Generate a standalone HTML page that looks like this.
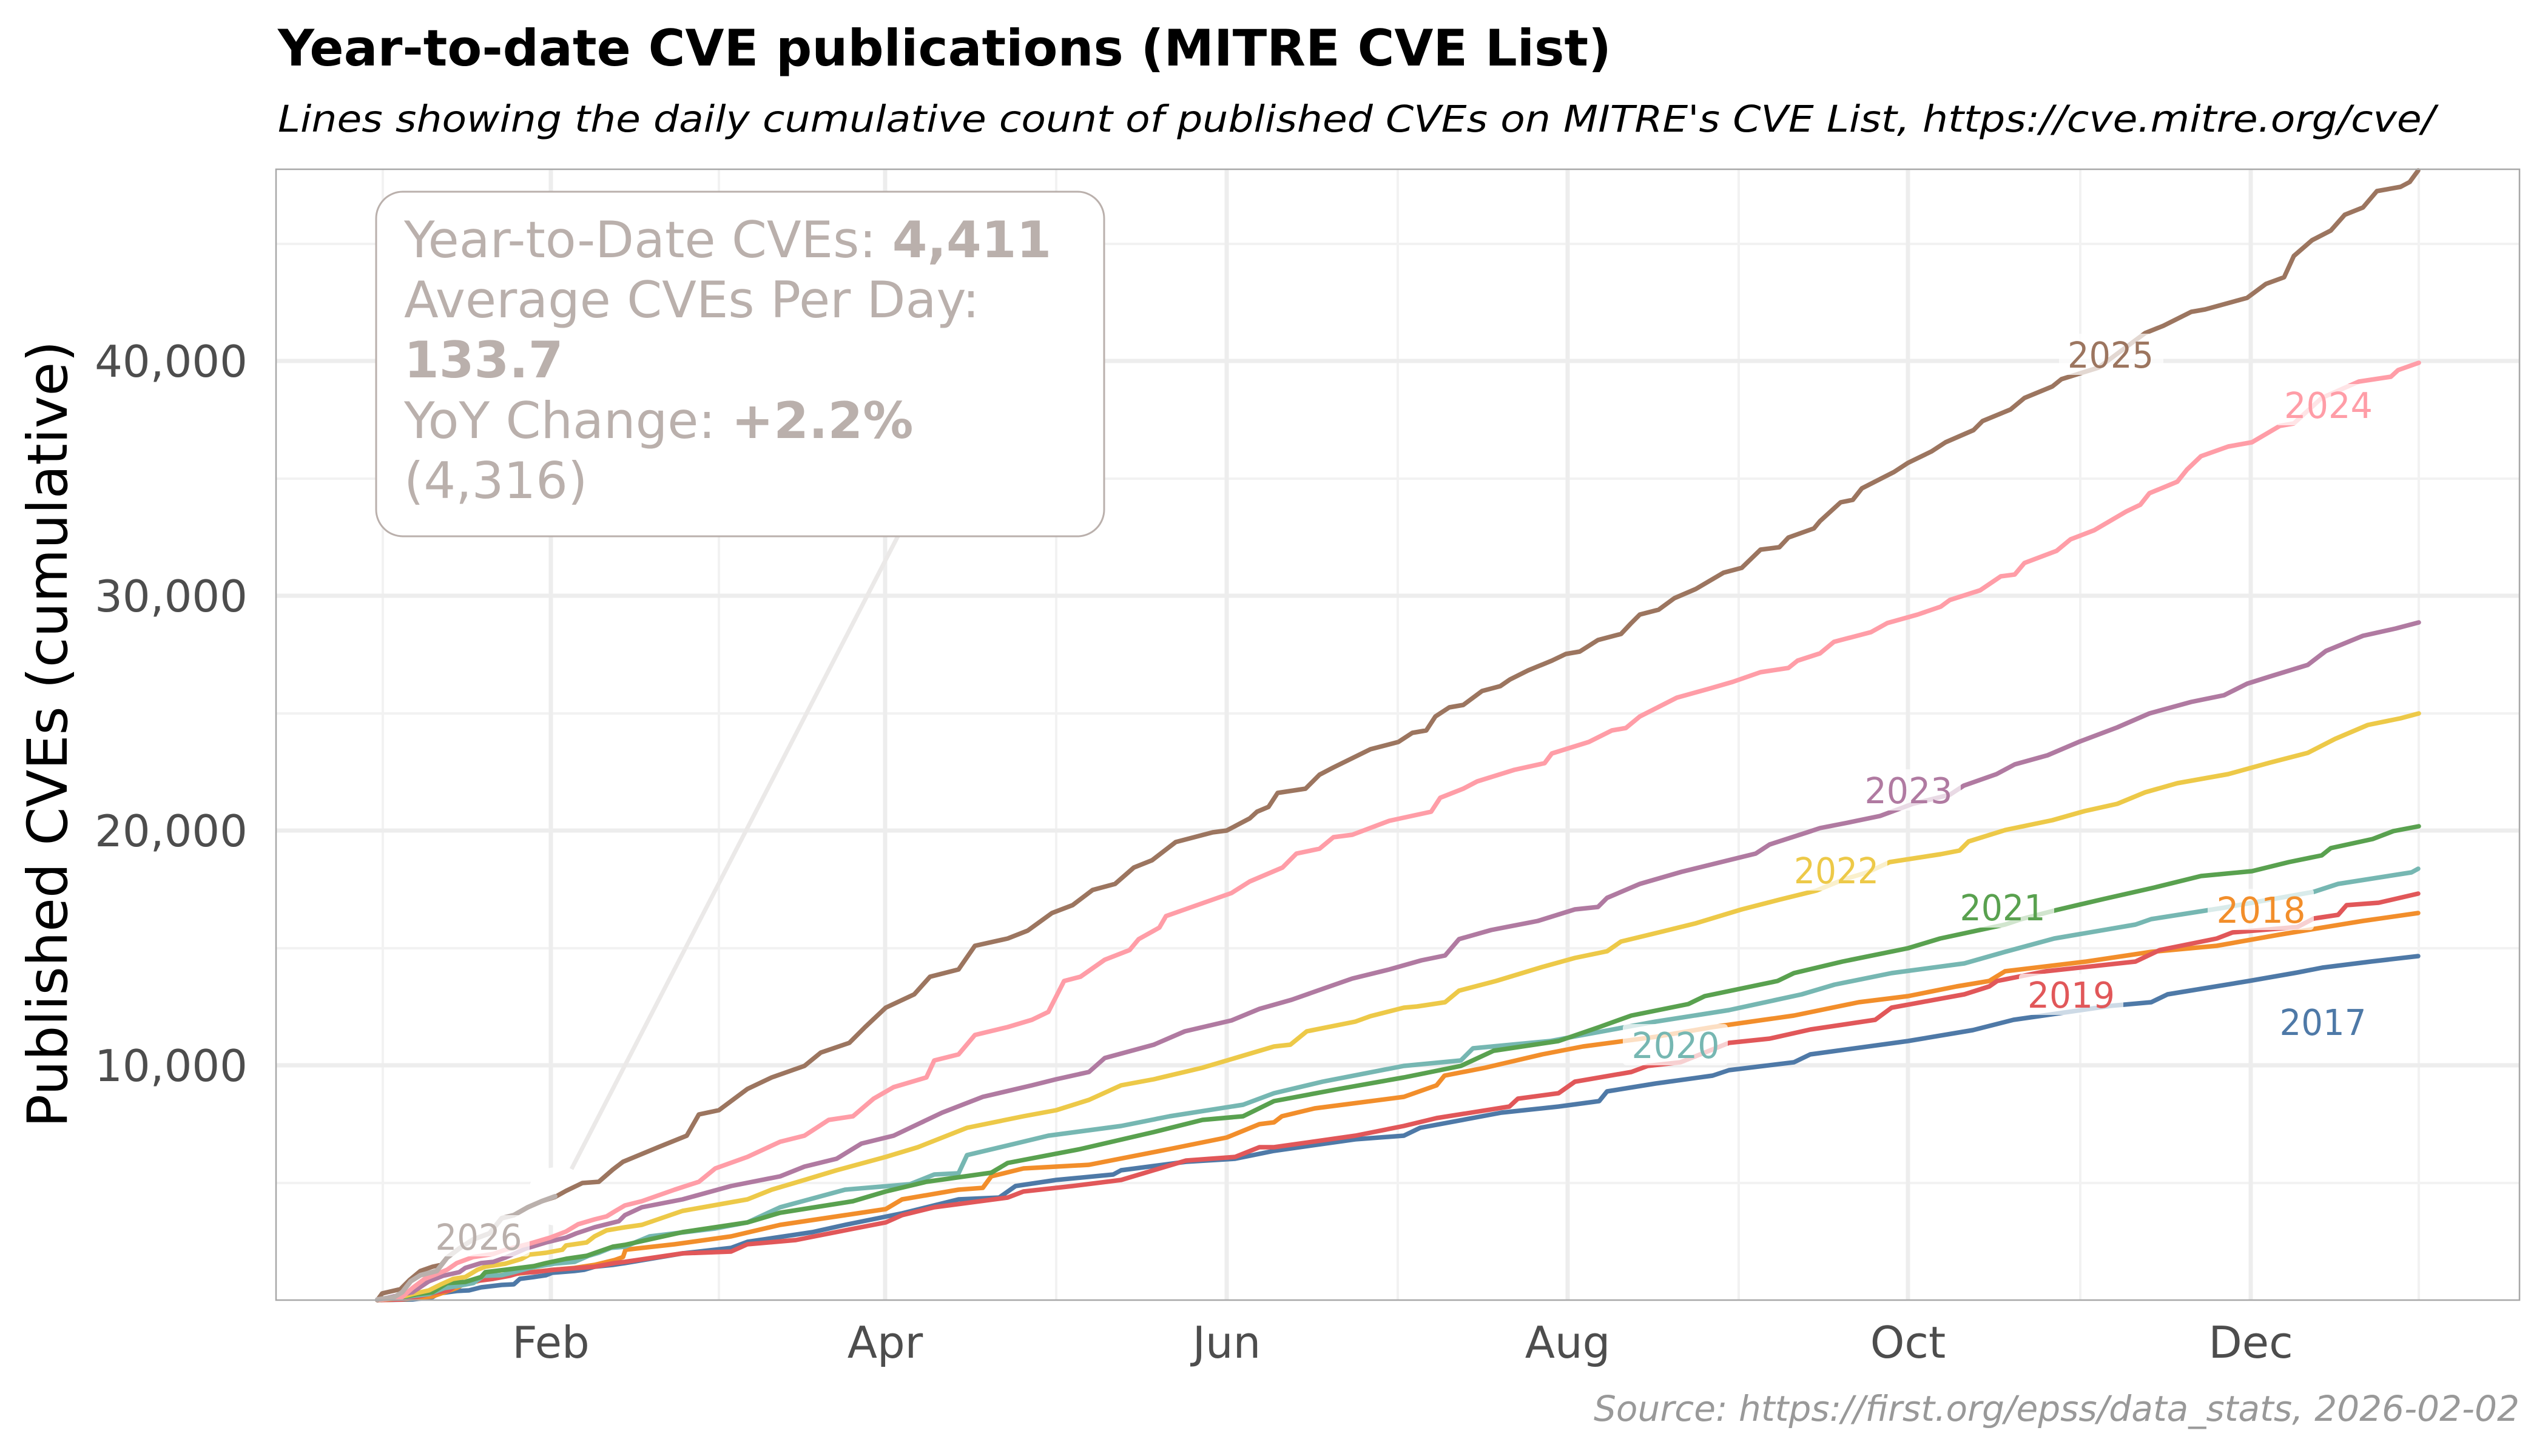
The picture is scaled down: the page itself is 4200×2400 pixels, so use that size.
<!DOCTYPE html>
<html>
<head>
<meta charset="utf-8">
<style>
  html,body{margin:0;padding:0;background:#ffffff;}
  svg{display:block;}
  text{font-family:"DejaVu Sans","Liberation Sans",sans-serif;}
</style>
</head>
<body>
<svg xmlns="http://www.w3.org/2000/svg" width="4200" height="2400" viewBox="0 0 4200 2400">
  <rect x="0" y="0" width="4200" height="2400" fill="#ffffff"/>

  <!-- Titles -->
  <text x="458" y="108" font-size="83" font-weight="bold" fill="#000" textLength="2198" lengthAdjust="spacingAndGlyphs">Year-to-date CVE publications (MITRE CVE List)</text>
  <text x="458" y="217" font-size="61" font-style="italic" fill="#000" textLength="3556" lengthAdjust="spacingAndGlyphs">Lines showing the daily cumulative count of published CVEs on MITRE's CVE List, https://cve.mitre.org/cve/</text>

  <!-- Panel background -->
  <rect x="455" y="279" width="3698" height="1864" fill="#ffffff"/>

  <!-- Minor gridlines -->
  <g stroke="#f2f2f2" stroke-width="4" fill="none">
    <line x1="455" y1="1950" x2="4153" y2="1950"/>
    <line x1="455" y1="1563" x2="4153" y2="1563"/>
    <line x1="455" y1="1176" x2="4153" y2="1176"/>
    <line x1="455" y1="789" x2="4153" y2="789"/>
    <line x1="455" y1="402" x2="4153" y2="402"/>
    <line x1="631" y1="279" x2="631" y2="2143"/>
    <line x1="1185" y1="279" x2="1185" y2="2143"/>
    <line x1="1741" y1="279" x2="1741" y2="2143"/>
    <line x1="2304" y1="279" x2="2304" y2="2143"/>
    <line x1="2866" y1="279" x2="2866" y2="2143"/>
    <line x1="3429" y1="279" x2="3429" y2="2143"/>
    <line x1="3987" y1="279" x2="3987" y2="2143"/>
  </g>
  <!-- Major gridlines -->
  <g stroke="#ededed" stroke-width="7" fill="none">
    <line x1="455" y1="1756" x2="4153" y2="1756"/>
    <line x1="455" y1="1369" x2="4153" y2="1369"/>
    <line x1="455" y1="982" x2="4153" y2="982"/>
    <line x1="455" y1="595" x2="4153" y2="595"/>
    <line x1="908" y1="279" x2="908" y2="2143"/>
    <line x1="1459" y1="279" x2="1459" y2="2143"/>
    <line x1="2022" y1="279" x2="2022" y2="2143"/>
    <line x1="2584" y1="279" x2="2584" y2="2143"/>
    <line x1="3145" y1="279" x2="3145" y2="2143"/>
    <line x1="3710" y1="279" x2="3710" y2="2143"/>
  </g>

  <!-- Connector line from box to 2026 endpoint -->
  <line x1="1482" y1="880" x2="942" y2="1927" stroke="#ebe9e8" stroke-width="7"/>
  <circle cx="917" cy="1972" r="48" fill="#ffffff"/>

  <!-- Series lines -->
  <g fill="none" stroke-width="7.5" stroke-linejoin="round" stroke-linecap="round">
    <polyline stroke="#4E79A7" points="622,2143 680,2142 713,2138 723,2132 753,2128 773,2127 793,2122 827,2118 847,2117 857,2108 880,2105 900,2102 910,2098 947,2095 963,2093 980,2088 1010,2085 1030,2082 1125,2066 1205,2057 1232,2047 1339,2031 1393,2019 1487,2000 1580,1977 1647,1974 1674,1955 1741,1945 1835,1936 1848,1929 1955,1915 2036,1910 2100,1897 2234,1878 2314,1872 2341,1859 2475,1834 2569,1824 2636,1815 2649,1799 2729,1786 2823,1773 2850,1764 2957,1751 2984,1738 3145,1716 3252,1698 3319,1681 3479,1658 3546,1652 3573,1639 3707,1617 3787,1603 3828,1595 3908,1585 3986,1576"/>
    <polyline stroke="#F28E2B" points="622,2143 663,2142 713,2137 733,2130 753,2123 767,2115 787,2112 813,2103 847,2100 913,2093 947,2090 980,2085 1013,2077 1027,2072 1031,2060 1112,2051 1205,2038 1286,2019 1393,2003 1460,1993 1487,1977 1580,1961 1620,1958 1634,1939 1687,1926 1795,1920 1928,1894 2022,1875 2076,1853 2100,1850 2113,1840 2167,1827 2314,1808 2368,1789 2381,1773 2448,1760 2542,1738 2609,1725 2729,1709 2823,1693 2957,1674 3064,1652 3145,1642 3225,1626 3279,1617 3305,1601 3439,1585 3546,1569 3654,1559 3761,1540 3895,1518 3986,1505"/>
    <polyline stroke="#E15759" points="622,2143 663,2142 690,2137 720,2130 740,2127 753,2118 773,2113 813,2108 840,2103 857,2098 880,2097 913,2093 980,2088 1013,2082 1030,2080 1125,2066 1205,2063 1232,2051 1312,2044 1393,2028 1460,2015 1487,2003 1540,1990 1661,1974 1687,1964 1768,1955 1848,1945 1888,1933 1955,1913 2036,1907 2076,1891 2100,1891 2234,1872 2314,1856 2368,1843 2488,1824 2502,1811 2569,1802 2596,1783 2689,1767 2716,1757 2770,1751 2850,1719 2917,1712 2984,1697 3091,1681 3118,1661 3238,1639 3279,1626 3292,1617 3372,1601 3520,1585 3560,1566 3654,1547 3680,1537 3787,1528 3814,1514 3854,1508 3868,1492 3921,1488 3986,1473"/>
    <polyline stroke="#76B7B2" points="622,2143 707,2133 733,2123 753,2120 780,2115 797,2103 827,2102 847,2097 873,2090 913,2083 947,2080 970,2070 987,2065 1007,2057 1030,2055 1071,2038 1179,2025 1232,2015 1286,1990 1393,1961 1500,1952 1540,1936 1580,1934 1594,1904 1674,1885 1728,1872 1848,1856 1928,1840 2049,1821 2100,1802 2180,1783 2314,1757 2408,1748 2428,1728 2555,1716 2609,1706 2729,1684 2850,1665 2970,1639 3024,1623 3118,1604 3238,1588 3305,1569 3386,1547 3520,1524 3546,1515 3667,1496 3814,1470 3854,1457 3975,1438 3986,1432"/>
    <polyline stroke="#59A14F" points="622,2143 653,2140 690,2133 713,2130 737,2115 767,2113 793,2105 800,2097 833,2093 880,2087 900,2082 933,2075 967,2070 987,2063 1010,2055 1030,2052 1125,2031 1232,2015 1286,1999 1406,1980 1460,1964 1527,1948 1634,1933 1661,1917 1781,1894 1902,1866 1982,1846 2049,1840 2100,1815 2207,1795 2314,1776 2408,1757 2462,1732 2569,1716 2636,1693 2689,1674 2783,1655 2810,1642 2930,1617 2957,1604 3037,1585 3145,1563 3198,1547 3305,1524 3332,1515 3390,1500 3467,1482 3551,1463 3628,1444 3712,1436 3773,1421 3827,1410 3842,1398 3911,1383 3945,1370 3987,1362"/>
    <polyline stroke="#EDC948" points="622,2143 653,2140 680,2133 707,2127 727,2117 747,2108 767,2105 787,2093 800,2088 833,2083 860,2075 873,2068 900,2065 927,2060 933,2053 967,2048 980,2038 1000,2028 1030,2023 1058,2019 1125,1996 1232,1977 1272,1961 1326,1945 1379,1929 1460,1907 1513,1891 1594,1859 1687,1840 1741,1830 1795,1813 1848,1789 1902,1779 1982,1760 2036,1744 2100,1725 2127,1722 2154,1700 2234,1684 2259,1675 2314,1661 2336,1659 2382,1652 2405,1633 2466,1617 2542,1594 2596,1579 2649,1568 2672,1552 2734,1537 2795,1522 2871,1499 2933,1483 2994,1468 3038,1450 3078,1438 3115,1421 3199,1408 3230,1402 3245,1387 3306,1368 3383,1352 3436,1337 3490,1325 3536,1306 3589,1291 3673,1276 3742,1257 3804,1241 3849,1218 3903,1195 3957,1184 3987,1176"/>
    <polyline stroke="#B07AA1" points="622,2143 680,2130 707,2112 730,2103 757,2097 767,2090 793,2082 813,2080 833,2073 867,2058 900,2048 933,2040 950,2033 980,2023 1000,2018 1020,2013 1030,2003 1058,1990 1125,1977 1205,1955 1286,1939 1326,1923 1379,1910 1420,1885 1473,1872 1513,1853 1553,1834 1620,1808 1701,1789 1741,1779 1795,1767 1821,1744 1902,1722 1953,1700 2030,1682 2076,1663 2129,1648 2183,1629 2229,1613 2290,1598 2343,1583 2382,1575 2405,1548 2458,1533 2535,1518 2596,1499 2634,1495 2649,1480 2703,1457 2772,1437 2833,1422 2894,1407 2917,1392 2979,1372 3000,1365 3046,1356 3099,1345 3153,1325 3214,1310 3237,1295 3291,1276 3321,1260 3375,1245 3429,1222 3490,1199 3543,1176 3612,1157 3666,1146 3704,1127 3742,1115 3804,1096 3834,1073 3895,1048 3949,1036 3987,1026"/>
    <polyline stroke="#FF9DA7" points="622,2143 663,2138 680,2123 700,2108 720,2100 737,2093 753,2082 780,2072 813,2067 833,2060 873,2050 907,2040 933,2030 953,2018 980,2010 1000,2005 1013,1997 1030,1987 1058,1980 1112,1961 1152,1948 1179,1926 1232,1907 1286,1882 1326,1872 1366,1846 1406,1840 1440,1811 1473,1792 1527,1776 1540,1748 1580,1738 1607,1706 1661,1693 1701,1681 1728,1668 1754,1617 1781,1610 1821,1582 1862,1566 1877,1548 1911,1529 1922,1510 1976,1491 2030,1472 2060,1453 2114,1430 2137,1407 2175,1399 2198,1380 2229,1376 2290,1353 2359,1338 2374,1315 2412,1300 2435,1288 2496,1269 2546,1258 2558,1242 2619,1223 2657,1204 2680,1200 2703,1181 2764,1150 2818,1135 2856,1124 2902,1108 2948,1101 2963,1089 3000,1077 3023,1058 3084,1042 3111,1027 3161,1013 3199,1000 3214,989 3264,973 3298,950 3321,947 3337,928 3390,908 3413,889 3452,874 3505,843 3528,832 3543,813 3589,794 3605,774 3628,752 3673,736 3712,729 3758,702 3781,698 3827,656 3888,629 3941,621 3953,610 3987,598"/>
    <polyline stroke="#9C755F" points="622,2143 630,2132 660,2125 675,2110 693,2095 713,2088 727,2085 737,2073 757,2058 780,2043 807,2033 827,2008 847,2003 870,1990 893,1980 915,1973 933,1963 960,1950 987,1948 1010,1928 1027,1915 1085,1891 1132,1872 1152,1837 1185,1830 1232,1795 1272,1776 1326,1757 1353,1735 1400,1719 1426,1693 1460,1661 1507,1639 1533,1610 1580,1598 1607,1559 1661,1547 1694,1534 1734,1505 1768,1492 1801,1467 1838,1457 1869,1430 1899,1418 1938,1388 1999,1372 2022,1369 2060,1349 2072,1338 2091,1330 2106,1307 2152,1300 2175,1277 2198,1265 2259,1235 2305,1223 2328,1208 2351,1204 2366,1181 2389,1166 2412,1162 2443,1139 2473,1131 2489,1120 2519,1105 2558,1089 2581,1078 2604,1074 2634,1055 2672,1045 2688,1028 2703,1013 2734,1005 2760,986 2795,971 2841,944 2871,936 2902,906 2933,902 2948,886 2990,871 3000,859 3034,828 3054,824 3069,805 3122,778 3145,763 3184,744 3207,729 3253,709 3268,694 3314,675 3337,656 3383,637 3398,625 3459,606 3490,583 3536,549 3566,537 3612,514 3635,510 3704,491 3735,468 3765,457 3781,422 3811,396 3842,380 3865,354 3895,342 3918,315 3957,308 3972,300 3986,281"/>
    <polyline stroke="#BAB0AC" stroke-width="8" points="622,2142 650,2138 663,2130 677,2112 693,2102 720,2095 737,2073 757,2058 780,2043 807,2033 827,2008 847,2003 870,1990 893,1980 915,1972"/>
  </g>

  <!-- Line label backgrounds -->
  <g fill="#ffffff" fill-opacity="0.72">
    <rect x="3394" y="550" width="172" height="68" rx="6"/>
    <rect x="3751" y="633" width="174" height="68" rx="6"/>
    <rect x="3059" y="1268" width="173" height="68" rx="6"/>
    <rect x="2943" y="1400" width="168" height="68" rx="6"/>
    <rect x="3217" y="1461" width="169" height="68" rx="6"/>
    <rect x="2675" y="1688" width="173" height="68" rx="6"/>
    <rect x="3328" y="1605" width="172" height="68" rx="6"/>
    <rect x="3639" y="1465" width="175" height="68" rx="6"/>
    <rect x="3743" y="1650" width="171" height="68" rx="6"/>
    <rect x="705" y="2003" width="168" height="68" rx="6"/>
  </g>
  <!-- Line labels -->
  <g font-size="59" text-anchor="middle">
    <text x="3479" y="606" fill="#9C755F" textLength="142" lengthAdjust="spacingAndGlyphs">2025</text>
    <text x="3838" y="689" fill="#FF9DA7" textLength="146" lengthAdjust="spacingAndGlyphs">2024</text>
    <text x="3146" y="1324" fill="#B07AA1" textLength="145" lengthAdjust="spacingAndGlyphs">2023</text>
    <text x="3027" y="1456" fill="#EDC948" textLength="140" lengthAdjust="spacingAndGlyphs">2022</text>
    <text x="3301" y="1517" fill="#59A14F" textLength="141" lengthAdjust="spacingAndGlyphs">2021</text>
    <text x="2762" y="1744" fill="#76B7B2" textLength="145" lengthAdjust="spacingAndGlyphs">2020</text>
    <text x="3414" y="1661" fill="#E15759" textLength="144" lengthAdjust="spacingAndGlyphs">2019</text>
    <text x="3727" y="1521" fill="#F28E2B" textLength="147" lengthAdjust="spacingAndGlyphs">2018</text>
    <text x="3829" y="1706" fill="#4E79A7" textLength="143" lengthAdjust="spacingAndGlyphs">2017</text>
    <text x="789" y="2060" fill="#BAB0AC" textLength="143" lengthAdjust="spacingAndGlyphs">2026</text>
  </g>

  <!-- Stats box -->
  <rect x="620" y="316" width="1200" height="568" rx="44" ry="44" fill="#ffffff" stroke="#bab0ac" stroke-width="3"/>
  <g font-size="83" fill="#bab0ac">
    <text x="666" y="424">Year-to-Date CVEs: <tspan font-weight="bold">4,411</tspan></text>
    <text x="666" y="523">Average CVEs Per Day:</text>
    <text x="666" y="622" font-weight="bold">133.7</text>
    <text x="666" y="722">YoY Change: <tspan font-weight="bold">+2.2%</tspan></text>
    <text x="666" y="821">(4,316)</text>
  </g>

  <!-- Panel border -->
  <rect x="455" y="279" width="3698" height="1864" fill="none" stroke="#a8a8a8" stroke-width="2.5"/>

  <!-- Y axis tick labels -->
  <g font-size="72" fill="#4d4d4d" text-anchor="end">
    <text x="408" y="621">40,000</text>
    <text x="408" y="1008">30,000</text>
    <text x="408" y="1395">20,000</text>
    <text x="408" y="1782">10,000</text>
  </g>

  <!-- X axis tick labels -->
  <g font-size="72" fill="#4d4d4d" text-anchor="middle">
    <text x="908" y="2238">Feb</text>
    <text x="1459" y="2238">Apr</text>
    <text x="2022" y="2238">Jun</text>
    <text x="2584" y="2238">Aug</text>
    <text x="3145" y="2238">Oct</text>
    <text x="3710" y="2238">Dec</text>
  </g>

  <!-- Y axis title -->
  <text transform="translate(110,1210) rotate(-90)" text-anchor="middle" font-size="91" fill="#000" textLength="1297" lengthAdjust="spacingAndGlyphs">Published CVEs (cumulative)</text>

  <!-- Caption -->
  <text x="4153" y="2342" text-anchor="end" font-size="58" font-style="italic" fill="#999999" textLength="1526" lengthAdjust="spacingAndGlyphs">Source: https://first.org/epss/data_stats, 2026-02-02</text>
</svg>
</body>
</html>
